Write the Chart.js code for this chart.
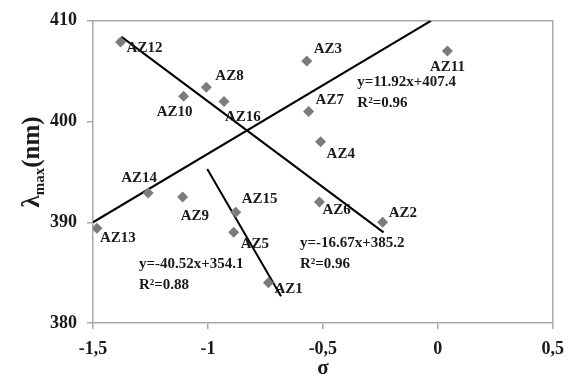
<!DOCTYPE html>
<html><head><meta charset="utf-8">
<script src="https://cdn.jsdelivr.net/npm/chart.js@4.4.0/dist/chart.umd.min.js"></script>
<style>html,body{margin:0;padding:0;background:#fff}#wrap{width:574px;height:384px}</style>
</head><body><div id="wrap"><canvas id="c" width="574" height="384"></canvas></div>
<script>
// Data
const names  = ['AZ1','AZ2','AZ3','AZ4','AZ5','AZ6','AZ7','AZ8','AZ9','AZ10','AZ11','AZ12','AZ13','AZ14','AZ15','AZ16'];
const sigma  = [-0.737,-0.240,-0.570,-0.510,-0.888,-0.515,-0.562,-1.007,-1.110,-1.106,0.042,-1.380,-1.483,-1.260,-0.879,-0.930];
const lambda = [384.0,390.0,406.0,398.0,389.0,392.0,401.0,403.4,392.5,402.5,407.0,407.9,389.4,392.9,391.0,402.0];
const fitA = {x:[-1.5,-0.03], y:[390.0,410.0]};
const fitB = {x:[-1.376,-0.236], y:[408.4,389.0]};
const fitC = {x:[-1.003,-0.682], y:[395.3,382.65]};
const xTicks = [-1.5,-1,-0.5,0,0.5];
const yTicks = [380,390,400,410];
const equations = [
  {text:['y=11.92x+407.4','R²=0.96'], sx:-0.35, sy:403.9},
  {text:['y=-16.67x+385.2','R²=0.96'], sx:-0.60, sy:387.9},
  {text:['y=-40.52x+354.1','R²=0.88'], sx:-1.30, sy:385.8}
];
// label offsets (style)
const labelOffsets = {
  AZ1:[6,6,'left'],AZ2:[6,-9,'left'],AZ3:[7,-12,'left'],AZ4:[6,12,'left'],AZ5:[7,12,'left'],
  AZ6:[3,8,'left'],AZ7:[7,-11,'left'],AZ8:[9,-11,'left'],AZ9:[-2,19,'left'],AZ10:[-9,16,'center'],
  AZ11:[0,16,'center'],AZ12:[6,6,'left'],AZ13:[3,10,'left'],AZ14:[-9,-15,'center'],AZ15:[6,-13,'left'],AZ16:[1,16,'left']
};
const serif = '"Liberation Serif","Times New Roman",serif';
const toPts = f => f.x.map((v,i)=>({x:v,y:f.y[i]}));
const lineDs = f => ({type:'scatter', data:toPts(f), showLine:true, borderColor:'#000', borderWidth:2, pointRadius:0, pointHoverRadius:0, fill:false});

const annot = {
  id:'annot',
  beforeDatasetsDraw(chart){
    const {ctx, chartArea:a} = chart;
    ctx.save(); ctx.strokeStyle='#a8a8a8'; ctx.lineWidth=1.5;
    ctx.beginPath(); ctx.moveTo(a.left,a.top); ctx.lineTo(a.right,a.top); ctx.lineTo(a.right,a.bottom); ctx.stroke();
    ctx.restore();
  },
  afterDatasetsDraw(chart){
    const {ctx, scales:{x,y}, chartArea:a} = chart;
    ctx.save();
    ctx.fillStyle='#1a1a1a';
    ctx.font='bold 15px '+serif;
    ctx.textBaseline='middle';
    const meta = chart.getDatasetMeta(0);
    meta.data.forEach((p,i)=>{
      const o = labelOffsets[names[i]];
      ctx.textAlign=o[2];
      ctx.fillText(names[i], p.x+o[0], p.y+o[1]);
    });
    ctx.textAlign='left';
    equations.forEach(e=>{
      const px=x.getPixelForValue(e.sx), py=y.getPixelForValue(e.sy);
      e.text.forEach((t,j)=>ctx.fillText(t, px, py+j*21));
    });
    // x title
    ctx.font='bold 21px '+serif; ctx.textAlign='center';
    ctx.fillText('σ', (a.left+a.right)/2, 369);
    // y title
    ctx.translate(33,(a.top+a.bottom)/2 - 10);
    ctx.rotate(-Math.PI/2);
    ctx.textAlign='left';
    const big='bold 25px '+serif, small='bold 15px '+serif;
    ctx.font=big; const w1=ctx.measureText('λ').width;
    ctx.font=small; const w2=ctx.measureText('max').width;
    ctx.font=big; const w3=ctx.measureText('(nm)').width;
    let sx=-(w1+w2+w3)/2;
    ctx.font=big; ctx.fillText('λ',sx,0); sx+=w1;
    ctx.font=small; ctx.fillText('max',sx,7); sx+=w2;
    ctx.font=big; ctx.fillText('(nm)',sx,0);
    ctx.restore();
  }
};

new Chart(document.getElementById('c'),{
  type:'scatter',
  data:{datasets:[
    {data:sigma.map((s,i)=>({x:s,y:lambda[i]})), pointStyle:'rectRot', pointRadius:5.5, pointHoverRadius:5.5, backgroundColor:'#7b7b7b', borderColor:'#7b7b7b', borderWidth:0},
    lineDs(fitA), lineDs(fitB), lineDs(fitC)
  ]},
  options:{
    responsive:false, animation:false, devicePixelRatio:1,
    layout:{padding:{left:0,right:14,top:17,bottom:0}},
    plugins:{legend:{display:false}, tooltip:{enabled:false}},
    scales:{
      x:{type:'linear', min:-1.5, max:0.5,
        afterBuildTicks:s=>{s.ticks=xTicks.map(v=>({value:v}));},
        afterFit:s=>{s.height=61;},
        ticks:{color:'#1a1a1a', font:{family:serif, size:18, weight:'bold'}, padding:10, callback:v=>String(v).replace('.',',')},
        grid:{display:true, drawOnChartArea:false, drawTicks:true, tickLength:6, color:'#a8a8a8', lineWidth:1.5},
        border:{color:'#a8a8a8', width:1.5}
      },
      y:{type:'linear', min:380, max:410,
        afterBuildTicks:s=>{s.ticks=yTicks.map(v=>({value:v}));},
        afterFit:s=>{s.width=93;},
        ticks:{color:'#1a1a1a', font:{family:serif, size:18, weight:'bold'}, padding:10},
        grid:{display:true, drawOnChartArea:false, drawTicks:true, tickLength:6, color:'#a8a8a8', lineWidth:1.5},
        border:{color:'#a8a8a8', width:1.5}
      }
    }
  },
  plugins:[annot]
});
</script></body></html>
